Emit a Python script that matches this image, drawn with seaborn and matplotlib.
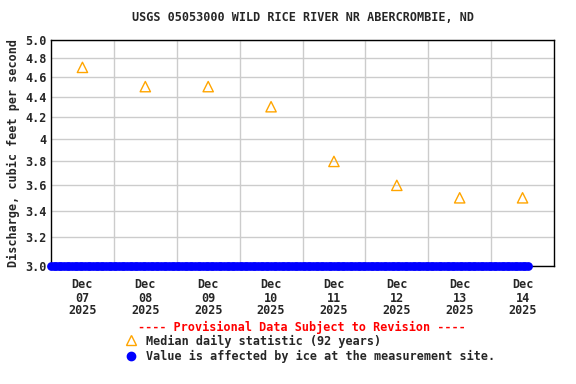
import pandas as pd
import numpy as np
import matplotlib
matplotlib.use("Agg")
import matplotlib.pyplot as plt
from matplotlib.ticker import FixedLocator, NullLocator
import seaborn as sns

# ---- data ----
median_days = ["2025-12-07 12:00", "2025-12-08 12:00", "2025-12-09 12:00", "2025-12-10 12:00",
               "2025-12-11 12:00", "2025-12-12 12:00", "2025-12-13 12:00", "2025-12-14 12:00"]
median_values = [4.7, 4.5, 4.5, 4.3, 3.8, 3.6, 3.5, 3.5]

# ice-affected record: hourly values pinned at the bottom of the axis
ice_start = "2025-12-07 00:00"
ice_end = "2025-12-14 14:00"
ice_value = 3.0

ytick_values = [3.0, 3.2, 3.4, 3.6, 3.8, 4.0, 4.2, 4.4, 4.6, 4.8, 5.0]
ytick_labels = ["3.0", "3.2", "3.4", "3.6", "3.8", "4", "4.2", "4.4", "4.6", "4.8", "5.0"]
xtick_labels = ["Dec\n07\n2025", "Dec\n08\n2025", "Dec\n09\n2025", "Dec\n10\n2025",
                "Dec\n11\n2025", "Dec\n12\n2025", "Dec\n13\n2025", "Dec\n14\n2025"]

medians = pd.DataFrame({"time": pd.to_datetime(median_days), "q": median_values})
ice_times = pd.date_range(ice_start, ice_end, freq="h")
ice = pd.DataFrame({"time": ice_times, "q": [ice_value] * len(ice_times)})

sns.set_theme(style="white")
plt.rcParams["font.family"] = ["DejaVu Sans Mono"]
plt.rcParams["font.weight"] = "bold"

fig = plt.figure(figsize=(5.76, 3.84), dpi=100)
ax = fig.add_axes([51 / 576, 1 - 266 / 384, 503 / 576, 226 / 384])

sns.scatterplot(data=ice, x="time", y="q", ax=ax, color="#0000ff", s=40,
                marker="o", edgecolor="#0000ff", linewidth=0, zorder=3, clip_on=False)
sns.scatterplot(data=medians, x="time", y="q", ax=ax, marker="^", s=55,
                facecolor="none", edgecolor="orange", linewidth=1, zorder=4)

ax.set_yscale("log")
ax.set_ylim(3.0, 5.0)
ax.set_xlim(pd.Timestamp("2025-12-07"), pd.Timestamp("2025-12-15"))
ax.yaxis.set_major_locator(FixedLocator(ytick_values))
ax.yaxis.set_minor_locator(NullLocator())
ax.set_yticks(ytick_values)
ax.set_yticklabels(ytick_labels)

ax.set_xticks(medians["time"])
ax.set_xticklabels(xtick_labels, linespacing=1.0)
ax.set_xticks(pd.date_range("2025-12-08", "2025-12-14", freq="D"), minor=True)

ax.grid(False)
ax.grid(True, which="minor", axis="x", color="#cccccc", linewidth=1)
ax.grid(True, which="major", axis="y", color="#cccccc", linewidth=1)
ax.tick_params(axis="both", which="both", length=0, labelsize=8.5, pad=3)
ax.tick_params(axis="x", pad=9)
for lab in ax.get_xticklabels() + ax.get_yticklabels():
    lab.set_fontweight("bold")
for sp in ax.spines.values():
    sp.set_color("black")
    sp.set_linewidth(1)

ax.set_xlabel("")
ax.set_ylabel("Discharge, cubic feet per second", fontsize=8.5, fontweight="bold", labelpad=4)
ax.set_title("USGS 05053000 WILD RICE RIVER NR ABERCROMBIE, ND", fontsize=8.5,
             fontweight="bold", pad=14)

fig.text(302 / 576, 1 - 327 / 384, "---- Provisional Data Subject to Revision ----",
         color="red", fontsize=8.5, fontweight="bold", ha="center", va="center")
fig.text(146 / 576, 1 - 341 / 384, "Median daily statistic (92 years)",
         fontsize=8.5, fontweight="bold", ha="left", va="center")
fig.text(146 / 576, 1 - 356 / 384, "Value is affected by ice at the measurement site.",
         fontsize=8.5, fontweight="bold", ha="left", va="center")
fig.lines.append(plt.Line2D([131 / 576], [1 - 340 / 384], transform=fig.transFigure,
                            marker="^", markersize=7, markerfacecolor="none",
                            markeredgecolor="orange", linestyle="none"))
fig.lines.append(plt.Line2D([131 / 576], [1 - 356 / 384], transform=fig.transFigure,
                            marker="o", markersize=6, markerfacecolor="#0000ff",
                            markeredgecolor="#0000ff", linestyle="none"))

fig.savefig("out.png", dpi=100)
